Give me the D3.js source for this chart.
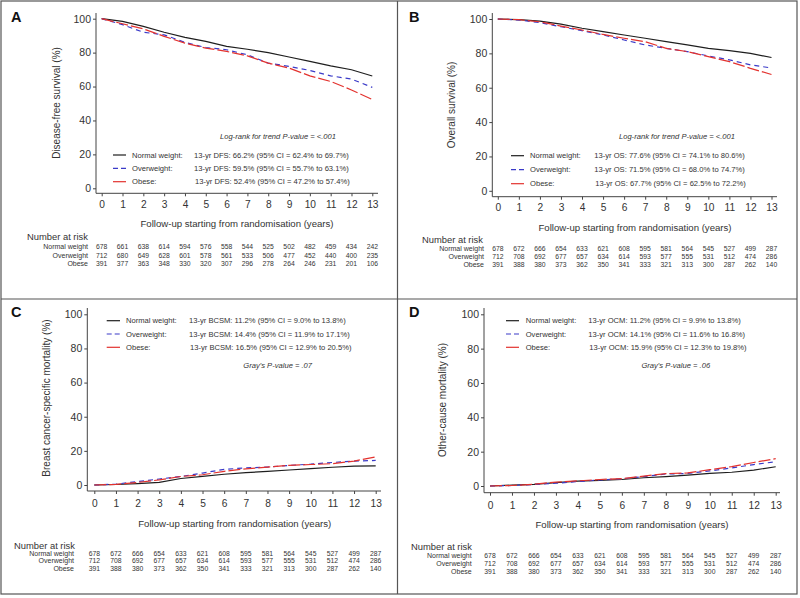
<!DOCTYPE html>
<html>
<head>
<meta charset="utf-8">
<script src="https://cdn.jsdelivr.net/npm/d3@7"></script>
<style>
  body { margin: 0; background: #fff; }
  svg text { font-family: "Liberation Sans", Arial, sans-serif; fill: #333; }
</style>
</head>
<body>
<svg id="chart" width="800" height="598"></svg>
<script>
// Follow-up years (x ticks and curve sampling points)
const years = [0, 1, 2, 3, 4, 5, 6, 7, 8, 9, 10, 11, 12, 13];
const yTicks = [0, 20, 40, 60, 80, 100];
const groups = ["Normal weight", "Overweight", "Obese"];

// A: disease-free survival (%)
const dfsNormal = [100, 98.4, 95.5, 92, 89, 86.6, 83.7, 82, 80, 77.4, 74.8, 72.2, 69.9, 66.2];
const dfsOver = [100, 96.5, 92, 90.5, 86, 83, 81.7, 78.7, 73.8, 71.9, 69.5, 66.3, 64.4, 59.5];
const dfsObese = [100, 97, 94, 89.6, 85.6, 82.7, 80.7, 78.1, 73.8, 70.9, 66.3, 63, 58, 52.4];

// B: overall survival (%)
const osNormal = [100, 99.6, 98.8, 97, 94.6, 92.6, 90.7, 88.8, 86.8, 84.9, 82.9, 81.6, 80, 77.6];
const osOver = [100, 99.4, 97.9, 95.5, 93.2, 90.7, 87.8, 84.9, 82.9, 81, 78.5, 76.2, 73.3, 71.5];
const osObese = [100, 99.6, 98.4, 95.9, 93.6, 91, 88.8, 86.8, 82.9, 81, 78.1, 75.2, 71.3, 67.7];

// C: breast cancer-specific mortality (%)
const bcsmNormal = [0, 0.3, 0.8, 1.5, 3.8, 5, 6.3, 7.2, 8, 8.8, 9.6, 10.4, 11, 11.2];
const bcsmOver = [0, 0.5, 2, 3.5, 5, 7, 9.2, 10, 10.5, 11.5, 12.2, 13.2, 14, 14.4];
const bcsmObese = [0, 0.4, 1.5, 3, 5, 6, 8, 9.5, 10.5, 11.5, 12, 12.5, 14, 16.5];

// D: other-cause mortality (%)
const ocmNormal = [0, 0.5, 1, 2, 2.8, 3.3, 3.8, 4.8, 5.5, 6.3, 7.3, 8, 9.3, 11.2];
const ocmOver = [0, 0.3, 0.9, 1.6, 2.6, 3.5, 4.2, 5.5, 7, 7.3, 8.8, 10.5, 12.5, 14.1];
const ocmObese = [0, 0.3, 1, 2.3, 3, 3.8, 4.3, 5.8, 7.2, 7.6, 9.5, 11.3, 13.7, 15.9];

// Number at risk
const riskDfsNormal = [678, 661, 638, 614, 594, 576, 558, 544, 525, 502, 482, 459, 434, 242];
const riskDfsOver = [712, 680, 649, 628, 601, 578, 561, 533, 506, 477, 452, 440, 400, 235];
const riskDfsObese = [391, 377, 363, 348, 330, 320, 307, 296, 278, 264, 246, 231, 201, 106];
const riskNormal = [678, 672, 666, 654, 633, 621, 608, 595, 581, 564, 545, 527, 499, 287];
const riskOver = [712, 708, 692, 677, 657, 634, 614, 593, 577, 555, 531, 512, 474, 286];
const riskObese = [391, 388, 380, 373, 362, 350, 341, 333, 321, 313, 300, 287, 262, 140];

// Legend texts
const statsDfs = ["13-yr DFS: 66.2% (95% CI = 62.4% to 69.7%)", "13-yr DFS: 59.5% (95% CI = 55.7% to 63.1%)", "13-yr DFS: 52.4% (95% CI = 47.2% to 57.4%)"];
const statsOs = ["13-yr OS: 77.6% (95% CI = 74.1% to 80.6%)", "13-yr OS: 71.5% (95% CI = 68.0% to 74.7%)", "13-yr OS: 67.7% (95% CI = 62.5% to 72.2%)"];
const statsBcsm = ["13-yr BCSM: 11.2% (95% CI = 9.0% to 13.8%)", "13-yr BCSM: 14.4% (95% CI = 11.9% to 17.1%)", "13-yr BCSM: 16.5% (95% CI = 12.9% to 20.5%)"];
const statsOcm = ["13-yr OCM: 11.2% (95% CI = 9.9% to 13.8%)", "13-yr OCM: 14.1% (95% CI = 11.6% to 16.8%)", "13-yr OCM: 15.9% (95% CI = 12.3% to 19.8%)"];

/** Style per group */
const colors = ["#1e1e1e", "#3a3ac8", "#e3322e"];
const dashes = [null, "5,4", "12,3"];

/** Panel layout (pixel positions of each panel's frame pieces) */
const panels = [
  { letter: "A", letterPos: [11, 22], ytitle: "Disease-free survival (%)",
    series: [dfsNormal, dfsOver, dfsObese], risk: [riskDfsNormal, riskDfsOver, riskDfsObese], stats: statsDfs,
    note: "Log-rank for trend P-value = <.001",
    x0: 101.7, x13: 372.3, yLo: 188.3, yHi: 18.7, axisX: 96, axisY: 193.3, top: 13, right: 378,
    tickY: 204, titleY: 224, titleX: 237, yTitleX: 56, yTitleY: 103,
    riskHead: [27, 237], riskRows: [246.7, 255.3, 263.7], riskRight: 88,
    legRows: [155, 168.3, 181.7], sample: [113, 126], labelX: 132, statX: 194, notePos: [278, 136.7] },
  { letter: "B", letterPos: [409, 22], ytitle: "Overall survival (%)",
    series: [osNormal, osOver, osObese], risk: [riskNormal, riskOver, riskObese], stats: statsOs,
    note: "Log-rank for trend P-value = <.001",
    x0: 497.8, x13: 771.5, yLo: 190.8, yHi: 19, axisX: 492.3, axisY: 196.7, top: 13, right: 777,
    tickY: 207.3, titleY: 227.3, titleX: 635, yTitleX: 451.7, yTitleY: 105,
    riskHead: [422, 239.3], riskRows: [249, 256.7, 264.3], riskRight: 484,
    legRows: [155.7, 169.7, 183.7], sample: [511, 524], labelX: 530, statX: 594.3, notePos: [677, 136.7] },
  { letter: "C", letterPos: [11, 317], ytitle: "Breast cancer-specific mortality (%)",
    series: [bcsmNormal, bcsmOver, bcsmObese], risk: [riskNormal, riskOver, riskObese], stats: statsBcsm,
    note: "Gray's P-value = .07",
    x0: 94.3, x13: 375.7, yLo: 485, yHi: 314.3, axisX: 87.3, axisY: 491, top: 308, right: 381,
    tickY: 503.3, titleY: 524, titleX: 234.7, yTitleX: 46.7, yTitleY: 398,
    riskHead: [14, 545.7], riskRows: [553.7, 561, 568.3], riskRight: 74,
    legRows: [320.7, 334, 347.3], sample: [106.7, 120], labelX: 126, statX: 189, notePos: [277.7, 365.7] },
  { letter: "D", letterPos: [409, 317], ytitle: "Other-cause mortality (%)",
    series: [ocmNormal, ocmOver, ocmObese], risk: [riskNormal, riskOver, riskObese], stats: statsOcm,
    note: "Gray's P-value = .06",
    x0: 490, x13: 775.7, yLo: 486, yHi: 314.3, axisX: 484, axisY: 492.7, top: 308, right: 780,
    tickY: 505, titleY: 525, titleX: 632, yTitleX: 442.7, yTitleY: 400,
    riskHead: [411, 547], riskRows: [555.3, 563.3, 571.3], riskRight: 471.7,
    legRows: [320.7, 334, 347.3], sample: [506, 519], labelX: 525.7, statX: 588.3, notePos: [675.8, 365.7] }
];

const svg = d3.select("#chart");

// Outer frame and panel dividers
svg.append("rect").attr("x", 1).attr("y", 1).attr("width", 796).attr("height", 593)
  .attr("fill", "none").attr("stroke", "#555").attr("stroke-width", 1.2);
svg.append("line").attr("x1", 397.5).attr("x2", 397.5).attr("y1", 1).attr("y2", 594)
  .attr("stroke", "#555").attr("stroke-width", 1.2);
svg.append("line").attr("x1", 1).attr("x2", 797).attr("y1", 299).attr("y2", 299)
  .attr("stroke", "#555").attr("stroke-width", 1.2);

panels.forEach(function (p) {
  const g = svg.append("g");
  const x = d3.scaleLinear().domain([0, 13]).range([p.x0, p.x13]);
  const y = d3.scaleLinear().domain([0, 100]).range([p.yLo, p.yHi]);

  // Panel letter
  g.append("text").attr("x", p.letterPos[0]).attr("y", p.letterPos[1])
    .attr("font-size", "14.5px").attr("font-weight", "bold").style("fill", "#111").text(p.letter);

  // Y axis
  const yAxis = d3.axisLeft(y).tickValues(yTicks).tickSize(3).tickPadding(2).tickSizeOuter(0);
  const ya = g.append("g").attr("transform", "translate(" + p.axisX + ",0)").call(yAxis);
  ya.select(".domain").remove();
  ya.append("line").attr("x1", 0).attr("x2", 0).attr("y1", p.top).attr("y2", p.axisY)
    .attr("stroke", "#444");
  ya.selectAll(".tick line").attr("stroke", "#444");
  ya.selectAll(".tick text").attr("font-size", "10.5px").attr("font-family", "Liberation Sans, Arial, sans-serif").style("fill", "#333");

  // X axis
  const xAxis = d3.axisBottom(x).tickValues(years).tickSize(3).tickSizeOuter(0).tickFormat(d3.format("d"));
  const xa = g.append("g").attr("transform", "translate(0," + p.axisY + ")").call(xAxis);
  xa.select(".domain").remove();
  xa.append("line").attr("x1", p.axisX).attr("x2", p.right).attr("y1", 0).attr("y2", 0)
    .attr("stroke", "#444");
  xa.selectAll(".tick line").attr("stroke", "#444");
  xa.selectAll(".tick text").attr("font-size", "10.2px").attr("font-family", "Liberation Sans, Arial, sans-serif")
    .style("fill", "#333").attr("y", p.tickY - p.axisY).attr("dy", "0.35em");

  // Axis titles
  g.append("text").attr("x", p.titleX).attr("y", p.titleY).attr("dy", "0.35em")
    .attr("text-anchor", "middle").attr("font-size", "9.6px")
    .text("Follow-up starting from randomisation (years)");
  g.append("text")
    .attr("transform", "translate(" + p.yTitleX + "," + p.yTitleY + ") rotate(-90)")
    .attr("dy", "0.35em").attr("text-anchor", "middle").attr("font-size", "10px")
    .text(p.ytitle);

  // Curves
  const line = d3.line().x(function (d, i) { return x(years[i]); }).y(function (d) { return y(d); });
  p.series.forEach(function (s, k) {
    g.append("path").attr("d", line(s)).attr("fill", "none")
      .attr("stroke", colors[k]).attr("stroke-width", 1.2)
      .attr("stroke-dasharray", dashes[k]);
  });

  // Legend
  groups.forEach(function (name, k) {
    const ly = p.legRows[k];
    g.append("line").attr("x1", p.sample[0]).attr("x2", p.sample[1]).attr("y1", ly).attr("y2", ly)
      .attr("stroke", colors[k]).attr("stroke-width", 1.2)
      .attr("stroke-dasharray", k === 1 ? "5,3" : null);
    g.append("text").attr("x", p.labelX).attr("y", ly).attr("dy", "0.35em")
      .attr("font-size", "7.6px").text(name + ":");
    g.append("text").attr("x", p.statX + (k === 2 ? 1 : 0)).attr("y", ly).attr("dy", "0.35em")
      .attr("font-size", "7.6px").text(p.stats[k]);
  });
  g.append("text").attr("x", p.notePos[0]).attr("y", p.notePos[1]).attr("dy", "0.35em")
    .attr("text-anchor", "middle").attr("font-size", "7.6px").attr("font-style", "italic")
    .text(p.note);

  // Number at risk table
  g.append("text").attr("x", p.riskHead[0]).attr("y", p.riskHead[1]).attr("dy", "0.35em")
    .attr("font-size", "9.4px").text("Number at risk");
  groups.forEach(function (name, k) {
    const ry = p.riskRows[k];
    g.append("text").attr("x", p.riskRight).attr("y", ry).attr("dy", "0.35em")
      .attr("text-anchor", "end").attr("font-size", "7px").text(name);
    g.selectAll(null).data(p.risk[k]).enter().append("text")
      .attr("x", function (d, i) { return x(years[i]); }).attr("y", ry).attr("dy", "0.35em")
      .attr("text-anchor", "middle").attr("font-size", "6.8px").text(function (d) { return d; });
  });
});
</script>
</body>
</html>
